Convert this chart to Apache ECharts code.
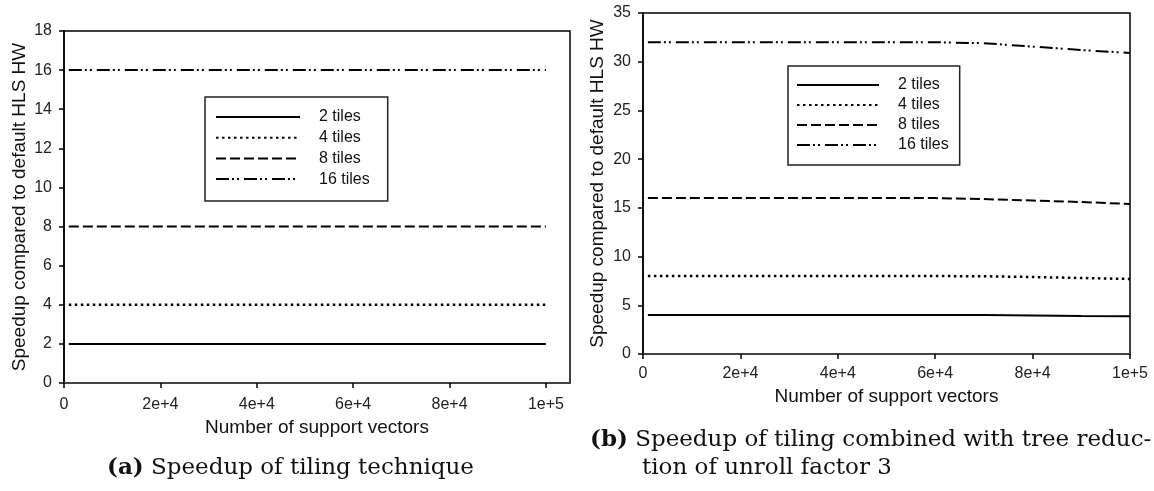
<!DOCTYPE html>
<html>
<head>
<meta charset="utf-8">
<script src="https://cdn.jsdelivr.net/npm/echarts@6/dist/echarts.min.js"></script>
<style>
  html, body { margin: 0; padding: 0; background: #fff; }
  #chart { width: 1154px; height: 491px; }
</style>
</head>
<body>
<div id="chart"></div>
<script>
// Number of support vectors sampled along the x axis
const supportVectors = [1000, 10000, 20000, 30000, 40000, 50000, 60000, 70000, 80000, 90000, 100000];
const tileNames = ['2 tiles', '4 tiles', '8 tiles', '16 tiles'];

// (a) tiling technique alone
const tilingOnly2  = [2, 2, 2, 2, 2, 2, 2, 2, 2, 2, 2];
const tilingOnly4  = [4, 4, 4, 4, 4, 4, 4, 4, 4, 4, 4];
const tilingOnly8  = [8, 8, 8, 8, 8, 8, 8, 8, 8, 8, 8];
const tilingOnly16 = [16, 16, 16, 16, 16, 16, 16, 16, 16, 16, 16];

// (b) tiling combined with tree reduction (unroll factor 3)
const tilingTree2  = [4, 4, 4, 4, 4, 4, 4, 4.0, 3.95, 3.9, 3.88];
const tilingTree4  = [8, 8, 8, 8, 8, 8, 8, 7.98, 7.9, 7.8, 7.7];
const tilingTree8  = [16, 16, 16, 16, 16, 16, 16, 15.9, 15.75, 15.6, 15.4];
const tilingTree16 = [32, 32, 32, 32, 32, 32, 32, 31.9, 31.55, 31.2, 30.9];

const xTickValues = [0, 20000, 40000, 60000, 80000, 100000];
const xTickLabels = ['0', '2e+4', '4e+4', '6e+4', '8e+4', '1e+5'];

const sans = 'Liberation Sans, Arial, sans-serif';
const serif = 'DejaVu Serif, serif';

// black line styles: solid, dotted, dashed, dash-dot-dot
const lineStyles = [
  { type: 'solid', width: 2 },
  { type: [2.5, 3.5], width: 2.5 },
  { type: [10, 4], width: 2 },
  { type: [13, 3, 2, 3, 2, 5], width: 2 }
];

function makeSeries(values, axisIdx) {
  return values.map((vals, k) => ({
    name: tileNames[k],
    type: 'line',
    xAxisIndex: axisIdx,
    yAxisIndex: axisIdx,
    symbol: 'none',
    silent: true,
    color: '#000',
    lineStyle: Object.assign({ color: '#000' }, lineStyles[k]),
    data: supportVectors.map((x, i) => [x, vals[i]])
  }));
}

function xAxis(gridIndex, max, nameGap, labelMargin) {
  return {
    type: 'value', gridIndex, min: 0, max, interval: 20000,
    name: 'Number of support vectors', nameLocation: 'middle', nameGap,
    nameTextStyle: { fontFamily: sans, fontSize: 19, color: '#111' },
    axisLine: { show: true, lineStyle: { color: '#444', width: 2 } },
    axisTick: { show: true, inside: false, length: 5, customValues: xTickValues, lineStyle: { color: '#000', width: 1.5 } },
    axisLabel: {
      margin: labelMargin, fontFamily: sans, fontSize: 16, color: '#222',
      customValues: xTickValues,
      formatter: v => { const i = xTickValues.indexOf(v); return i >= 0 ? xTickLabels[i] : ''; }
    },
    splitLine: { show: false }
  };
}

function yAxis(gridIndex, max, interval, nameGap) {
  return {
    type: 'value', gridIndex, min: 0, max, interval,
    name: 'Speedup compared to default HLS HW', nameLocation: 'middle', nameGap,
    nameTextStyle: { fontFamily: sans, fontSize: 19, color: '#111' },
    axisLine: { show: true, lineStyle: { color: '#000', width: 1.5 } },
    axisTick: { show: true, inside: false, length: 5, lineStyle: { color: '#000', width: 1.5 } },
    axisLabel: { margin: 12, fontFamily: sans, fontSize: 16, color: '#222' },
    splitLine: { show: false }
  };
}

function legend(left, top, itemWidth, itemGap, padding) {
  return {
    data: tileNames, orient: 'vertical', left, top,
    itemWidth, itemHeight: 14, itemGap,
    padding, borderColor: '#222', borderWidth: 1.5, backgroundColor: '#fff',
    selectedMode: false,
    itemStyle: { color: 'rgba(0,0,0,0)', borderWidth: 0, opacity: 0 },
    textStyle: { fontFamily: sans, fontSize: 16, color: '#111', padding: [0, 0, 0, 14] }
  };
}

const chart = echarts.init(document.getElementById('chart'), null, { renderer: 'canvas' });
chart.setOption({
  animation: false,
  backgroundColor: '#fff',
  grid: [
    { left: 64, top: 31, width: 506, height: 352, show: true, borderColor: '#000', borderWidth: 1.5, backgroundColor: 'transparent' },
    { left: 643, top: 13, width: 487, height: 341, show: true, borderColor: '#000', borderWidth: 1.5, backgroundColor: 'transparent' }
  ],
  xAxis: [xAxis(0, 105000, 35, 14), xAxis(1, 100000, 32, 12)],
  yAxis: [yAxis(0, 18, 2, 35), yAxis(1, 35, 5, 36)],
  legend: [
    legend(205, 97, 84, 4.7, [12, 18, 14, 10]),
    legend(788, 66, 82, 4, [11, 11, 12, 8])
  ],
  series: [
    ...makeSeries([tilingOnly2, tilingOnly4, tilingOnly8, tilingOnly16], 0),
    ...makeSeries([tilingTree2, tilingTree4, tilingTree8, tilingTree16], 1)
  ],
  graphic: [
    {
      type: 'text', left: 107, top: 457, silent: true,
      style: {
        text: '{b|(a)} Speedup of tiling technique',
        fontFamily: serif, fontSize: 23, fill: '#111',
        rich: { b: { fontFamily: serif, fontSize: 23, fontWeight: 'bold', fill: '#111' } }
      }
    },
    {
      type: 'text', left: 590, top: 429, silent: true,
      style: {
        text: '{b|(b)} Speedup of tiling combined with tree reduc-',
        fontFamily: serif, fontSize: 23, fill: '#111',
        rich: { b: { fontFamily: serif, fontSize: 23, fontWeight: 'bold', fill: '#111' } }
      }
    },
    {
      type: 'text', left: 642, top: 457, silent: true,
      style: { text: 'tion of unroll factor 3', fontFamily: serif, fontSize: 23, fill: '#111' }
    }
  ]
});
</script>
</body>
</html>
